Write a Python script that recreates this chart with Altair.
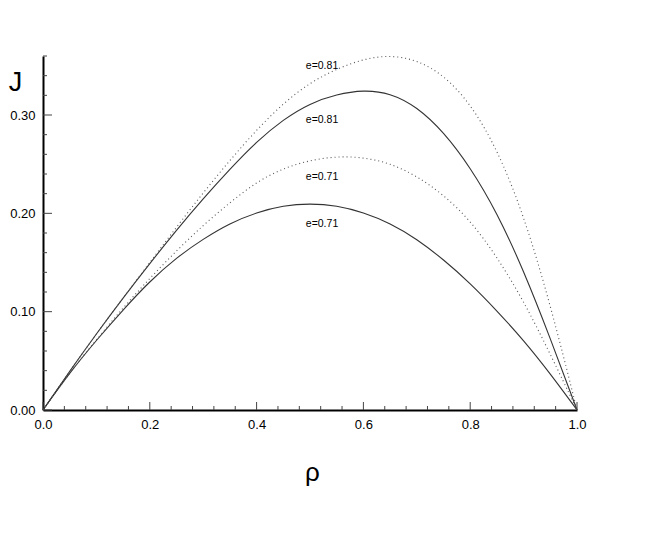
import altair as alt
import pandas as pd

RHO = [0.0, 0.05, 0.1, 0.15, 0.2, 0.25, 0.3, 0.35, 0.4, 0.45, 0.5,
       0.55, 0.6, 0.65, 0.7, 0.75, 0.8, 0.85, 0.9, 0.95, 1.0]
S71 = [0.0, 0.038, 0.071, 0.102, 0.131, 0.155, 0.174, 0.190, 0.201, 0.208, 0.210,
       0.208, 0.201, 0.190, 0.174, 0.153, 0.129, 0.101, 0.071, 0.037, 0.0]
S81 = [0.0, 0.0395, 0.0775, 0.114, 0.149, 0.183, 0.215, 0.245, 0.273, 0.2955, 0.312,
       0.321, 0.3255, 0.3225, 0.3085, 0.283, 0.247, 0.201, 0.142, 0.073, 0.0]
D71 = [0.0, 0.038, 0.0715, 0.104, 0.134, 0.162, 0.188, 0.211, 0.232, 0.246, 0.254,
       0.258, 0.257, 0.251, 0.238, 0.219, 0.193, 0.156, 0.111, 0.057, 0.0]
D81 = [0.0, 0.0395, 0.0775, 0.114, 0.150, 0.186, 0.221, 0.254, 0.285, 0.312, 0.333,
       0.347, 0.357, 0.361, 0.356, 0.341, 0.312, 0.266, 0.199, 0.108, 0.0]

LABEL_TEXT = ["e=0.81", "e=0.81", "e=0.71", "e=0.71"]
LABEL_RHO = [0.5225, 0.5225, 0.5225, 0.5225]
LABEL_J = [0.3496, 0.2947, 0.2365, 0.1892]

X_MAJOR = [0.0, 0.2, 0.4, 0.6, 0.8, 1.0]
X_MINOR = [0.04, 0.08, 0.12, 0.16, 0.24, 0.28, 0.32, 0.36, 0.44, 0.48, 0.52, 0.56,
           0.64, 0.68, 0.72, 0.76, 0.84, 0.88, 0.92, 0.96]
Y_MAJOR = [0.0, 0.1, 0.2, 0.3]
Y_MINOR = [0.02, 0.04, 0.06, 0.08, 0.12, 0.14, 0.16, 0.18, 0.22, 0.24, 0.26, 0.28,
           0.32, 0.34, 0.36]

W, H = 534, 354
FONT = "Liberation Sans"

solid = pd.DataFrame({"rho": RHO * 2, "J": S71 + S81,
                      "curve": ["S71"] * len(RHO) + ["S81"] * len(RHO)})
dotted = pd.DataFrame({"rho": RHO * 2, "J": D71 + D81,
                       "curve": ["D71"] * len(RHO) + ["D81"] * len(RHO)})
labels = pd.DataFrame({"rho": LABEL_RHO, "J": LABEL_J, "text": LABEL_TEXT})

xs = alt.Scale(domain=[0, 1], nice=False, zero=False)
ys = alt.Scale(domain=[0, 0.36], nice=False, zero=False)

x_axis = alt.Axis(values=X_MAJOR, format=".1f", ticks=False, grid=False,
                  labelFontSize=13, labelPadding=8, labelColor="black",
                  labelFlush=False, labelOverlap=False,
                  labelFont=FONT, domainColor="black", domainWidth=2,
                  title="ρ", titleFont=FONT, titleFontSize=26, titleFontWeight="normal",
                  titleX=W / 2 + 2, titleY=70, titleBaseline="alphabetic",
                  titleAlign="center", titleColor="black")
y_axis = alt.Axis(values=Y_MAJOR, format=".2f", ticks=False, grid=False,
                  labelFontSize=13, labelPadding=8, labelColor="black",
                  labelFlush=False, labelOverlap=False,
                  labelFont=FONT, domainColor="black", domainWidth=2,
                  title="J", titleFont=FONT, titleFontSize=27, titleFontWeight="normal",
                  titleAngle=0, titleX=-28, titleY=34, titleBaseline="alphabetic",
                  titleAlign="center", titleColor="black")

solid_layer = alt.Chart(solid).mark_line(color="#333333", strokeWidth=1.1,
                                         interpolate="basis").encode(
    x=alt.X("rho:Q", scale=xs, axis=x_axis),
    y=alt.Y("J:Q", scale=ys, axis=y_axis),
    detail="curve:N",
)
dotted_layer = alt.Chart(dotted).mark_line(color="#555555", strokeWidth=1.1,
                                           strokeDash=[1, 3],
                                           interpolate="basis").encode(
    x=alt.X("rho:Q", scale=xs, axis=x_axis),
    y=alt.Y("J:Q", scale=ys, axis=y_axis),
    detail="curve:N",
)
text_layer = alt.Chart(labels).mark_text(font=FONT, fontSize=10.5, color="black",
                                         align="center", baseline="middle").encode(
    x=alt.X("rho:Q", scale=xs, axis=x_axis),
    y=alt.Y("J:Q", scale=ys, axis=y_axis),
    text="text:N",
)

def xticks(vals, length):
    return alt.Chart(pd.DataFrame({"v": vals})).mark_rule(
        color="#444444", strokeWidth=1).encode(
        x=alt.X("v:Q", scale=xs, axis=x_axis),
        y=alt.value(H), y2=alt.value(H - length))

def yticks(vals, length):
    return alt.Chart(pd.DataFrame({"v": vals})).mark_rule(
        color="#444444", strokeWidth=1).encode(
        y=alt.Y("v:Q", scale=ys, axis=y_axis),
        x=alt.value(0), x2=alt.value(length))

chart = alt.layer(
    solid_layer, dotted_layer, text_layer,
    xticks(X_MINOR, 4), xticks(X_MAJOR, 8),
    yticks(Y_MINOR, 4), yticks(Y_MAJOR, 9),
).properties(
    width=W, height=H,
    autosize=alt.AutoSizeParams(type="none"),
    padding={"left": 35, "top": 48, "right": 60, "bottom": 120},
).configure_view(stroke=None)

chart.save("out.html", embed_options={"renderer": "svg", "actions": False})
